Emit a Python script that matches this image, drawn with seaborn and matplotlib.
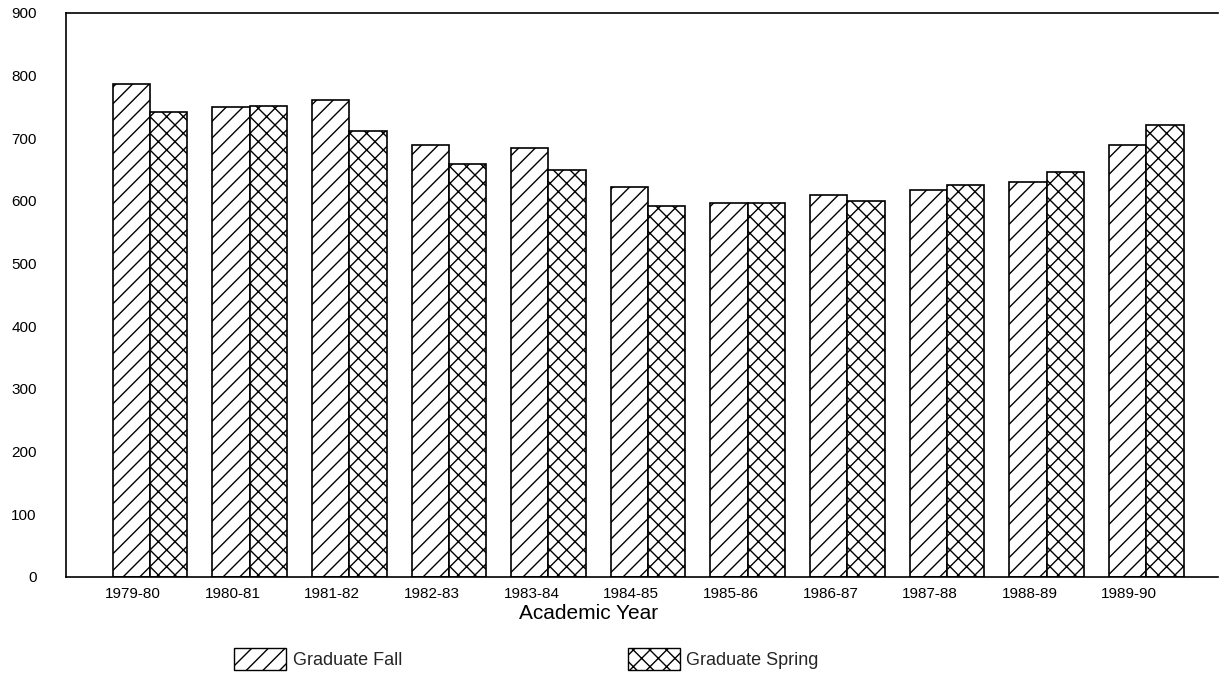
import numpy as np
import pandas as pd
import seaborn as sns
import matplotlib.pyplot as plt
import matplotlib.transforms as mtransforms
from matplotlib.patches import Patch

# --- data ---
years = ["1979-80", "1980-81", "1981-82", "1982-83", "1983-84", "1984-85",
         "1985-86", "1986-87", "1987-88", "1988-89", "1989-90"]
grad_fall = [786, 750, 761, 689, 684, 622, 597, 609, 617, 630, 689]
grad_spring = [742, 751, 711, 659, 650, 592, 597, 600, 625, 646, 722]
terms = ["Graduate Fall", "Graduate Spring"]
hatches = ["//", "xx"]

df = pd.DataFrame({
    "year": years * 2,
    "students": grad_fall + grad_spring,
    "term": [terms[0]] * len(years) + [terms[1]] * len(years),
})

sns.set_theme(style="white")
plt.rcParams["font.family"] = ["Liberation Sans", "DejaVu Sans"]
plt.rcParams["hatch.color"] = "black"
plt.rcParams["hatch.linewidth"] = 1.0

fig, ax = plt.subplots(figsize=(12.24, 6.74), dpi=100)
fig.subplots_adjust(left=66 / 1224, right=1218 / 1224,
                    top=1 - 13 / 674, bottom=1 - 577 / 674)

sns.barplot(data=df, x="year", y="students", hue="term",
            palette=["white", "white"], saturation=1, edgecolor="black",
            linewidth=1.2, width=0.75, legend=False, ax=ax)

for container, h in zip(ax.containers, hatches):
    for bar in container:
        bar.set_hatch(h)

# axes styling
ax.set_ylim(0, 900)
ax.set_yticks(range(0, 901, 100))
ax.set_xlim(-0.843, 10.72)
ax.spines["right"].set_visible(False)
for s in ["left", "top", "bottom"]:
    ax.spines[s].set_color("black")
    ax.spines[s].set_linewidth(1.2)

ax.tick_params(axis="y", direction="in", length=11, width=1, pad=21,
               labelsize=11, colors="black")
ax.tick_params(axis="x", length=0, pad=7, labelsize=11, colors="black")

# tick labels sit a little left of the bar pairs in the original
shift = mtransforms.ScaledTranslation(-0.17, 0, fig.dpi_scale_trans)
for lab in ax.get_xticklabels():
    lab.set_transform(lab.get_transform() + shift)

ax.set_ylabel("")
ax.set_xlabel("Academic Year", fontsize=15, color="black")
ax.xaxis.set_label_coords((589 - 66) / 1152, -0.047)

handles = [Patch(facecolor="white", edgecolor="black", hatch=h, label=t,
                 linewidth=1.0)
           for h, t in zip(hatches, terms)]
fig.legend(handles=handles, loc="center left",
           bbox_to_anchor=(234 / 1224, 1 - 659 / 674), ncol=2,
           frameon=False, fontsize=13, handlelength=2.9, handleheight=1.45,
           handletextpad=0.35, columnspacing=12.5, borderpad=0,
           borderaxespad=0)

fig.savefig("out.png", dpi=100, facecolor="white")
